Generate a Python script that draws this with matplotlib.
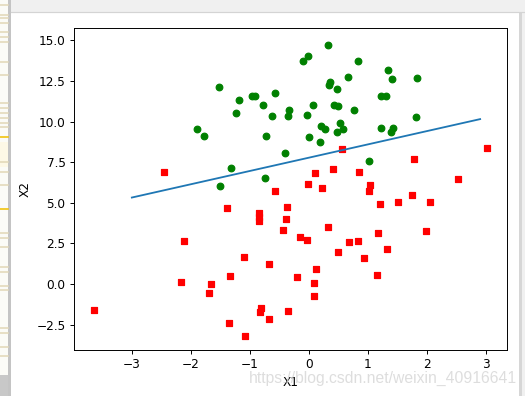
import matplotlib
matplotlib.use("Agg")
import matplotlib.pyplot as plt
from matplotlib.patches import Rectangle
import numpy as np

# points: X1, X2, class (1 = red square, 0 = green circle)
x1 = [-0.018, -1.396, -0.752, -1.322, 0.423, 0.407, 0.667, -2.460, 0.569, -0.027,
      0.850, 1.347, 1.177, -1.782, -0.567, 0.932, -0.024, -0.036, -0.197, 1.014,
      1.985, -1.693, -0.577, -0.347, -2.124, 1.218, -0.734, -3.642, 0.316, 1.417,
      -0.386, 0.557, 1.225, -1.348, 1.197, 0.275, 0.471, -1.890, -1.528, -1.185,
      -0.446, 1.042, -0.619, 1.152, 0.829, -1.238, -0.684, 0.229, -0.960, 0.493,
      0.185, -0.356, -0.398, 0.825, 1.507, 0.100, -0.344, 1.786, -0.919, -0.364,
      -0.842, 0.490, -0.007, 0.356, 0.343, -0.811, 2.531, 1.297, 0.475, -0.783,
      0.075, -1.337, -0.103, -0.147, 0.518, 1.015, -1.658, 1.320, 2.056, -0.852,
      -1.510, -1.077, 1.821, 3.010, -1.099, -0.835, -0.847, 1.400, 1.753, 0.079,
      0.089, 1.826, 0.197, 0.126, -0.680, 0.678, 0.761, -2.169, 1.389, 0.317]
x2 = [14.053, 4.663, 6.539, 7.153, 11.055, 7.067, 12.741, 6.867, 9.549, 10.428,
      6.920, 13.176, 3.167, 9.098, 5.749, 1.590, 6.152, 2.691, 0.444, 5.754,
      3.231, -0.558, 11.779, -1.679, 2.672, 9.597, 9.099, -1.618, 3.524, 9.619,
      3.989, 8.295, 11.587, -2.406, 4.952, 9.544, 9.332, 9.543, 12.151, 11.309,
      3.297, 6.105, 10.321, 0.548, 2.676, 10.549, -2.166, 5.922, 11.555, 10.993,
      8.721, 10.326, 8.058, 13.730, 5.028, 6.836, 10.717, 7.719, 11.560, 4.747,
      4.119, 1.961, 9.076, 12.448, 12.281, -1.466, 6.477, 11.608, 12.040, 11.010,
      11.024, 0.468, 13.764, 2.875, 9.887, 7.572, -0.027, 2.171, 5.020, 4.376,
      6.062, -3.182, 10.284, 8.402, 1.688, -1.734, 3.849, 12.629, 5.468, 0.060,
      -0.715, 12.694, 9.745, 0.922, 1.221, 2.557, 10.694, 0.144, 9.342, 14.739]
label = [0, 1, 0, 0, 0, 1, 0, 1, 0, 0,
         1, 0, 1, 0, 1, 1, 1, 1, 1, 1,
         1, 1, 0, 1, 1, 0, 0, 1, 1, 0,
         1, 1, 0, 1, 1, 0, 0, 0, 0, 0,
         1, 1, 0, 1, 1, 0, 1, 1, 0, 0,
         0, 0, 0, 0, 1, 1, 0, 1, 0, 1,
         1, 1, 0, 0, 0, 1, 1, 0, 0, 0,
         0, 1, 0, 1, 0, 0, 1, 1, 1, 1,
         0, 1, 0, 1, 1, 1, 1, 0, 1, 1,
         1, 0, 0, 1, 1, 1, 0, 1, 0, 0]

# boundary weights estimated from the drawn line: y = (-w0 - w1*x) / w2
weights = [7.78, 0.819, -1.0]

x1 = np.array(x1)
x2 = np.array(x2)
label = np.array(label)

dpi = 87.1
fig = plt.figure(figsize=(525 / dpi, 396 / dpi), dpi=dpi)

# screenshot window frame behind the chart
bg = fig.add_axes([0, 0, 1, 1], zorder=-1)
bg.set_xlim(0, 525)
bg.set_ylim(396, 0)
bg.axis("off")
bg.add_patch(Rectangle((11, 0), 514, 11.5, color="#f0f0f0", lw=0))
bg.plot([11, 525], [11.8, 11.8], color="#d4d4d4", lw=1)
bg.add_patch(Rectangle((0, 0), 8, 396, color="#fbfbf7", lw=0))
bg.add_patch(Rectangle((0, 142), 8, 25, color="#fdf8e6", lw=0))
for yy in [5, 15, 18, 23, 32, 37, 42, 62, 75, 103, 108, 113, 118, 123, 127,
           162, 172, 185, 233, 238, 247, 267, 272, 286, 290, 328, 333, 347, 356]:
    bg.plot([0, 8], [yy, yy], color="#e2d8b8", lw=1.3)
for yy in [137, 209]:
    bg.plot([0, 8], [yy, yy], color="#f0c000", lw=1.3)
bg.add_patch(Rectangle((0, 375), 8, 21, color="#c8c8c8", lw=0))
bg.add_patch(Rectangle((8, 0), 3, 396, color="#c4c4c4", lw=0))
bg.add_patch(Rectangle((519, 12), 2.5, 384, color="#d6d6d6", lw=0))
bg.add_patch(Rectangle((521.5, 0), 4, 396, color="#f0f0f0", lw=0))

ax = fig.add_axes([74 / 525, 46 / 396, 432.7 / 525, 321.7 / 396])
red = label == 1
ax.scatter(x1[red], x2[red], s=30, c="red", marker="s")
ax.scatter(x1[~red], x2[~red], s=30, c="green")
x = np.arange(-3.0, 3.0, 0.1)
y = (-weights[0] - weights[1] * x) / weights[2]
ax.plot(x, y)
ax.set_xlim(-3.98, 3.35)
ax.set_ylim(-4.07, 15.75)
ax.set_xlabel("X1")
ax.set_ylabel("X2")

fig.text(517 / 525, 1 - 383 / 396, "https://blog.csdn.net/weixin_40916641",
         ha="right", va="baseline", fontsize=13, family="Liberation Sans",
         color="#d8d8d8", alpha=0.85, zorder=10)

fig.savefig("out.png", dpi=dpi)
